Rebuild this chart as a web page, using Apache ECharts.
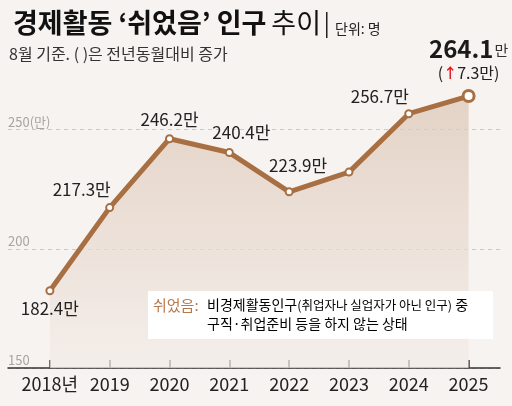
<!DOCTYPE html>
<html>
<head>
<meta charset="utf-8">
<script src="https://cdn.jsdelivr.net/npm/echarts@6/dist/echarts.min.js"></script>
<style>
  html, body { margin: 0; padding: 0; background: #f6f3f0; }
  #main { width: 512px; height: 406px; }
</style>
</head>
<body>
<div id="main"></div>
<script>
// 데이터
const years = [2018, 2019, 2020, 2021, 2022, 2023, 2024, 2025];
const values = [182.4, 217.3, 246.2, 240.4, 223.9, 232.2, 256.7, 264.1];
const yTicks = [150, 200, 250];
const lastChange = 7.3;

const krFont = "'Noto Sans CJK KR', sans-serif";
const brown = '#a86f42';

// 라벨 위치 (점 기준 오프셋), null 이면 라벨 없음
const labelOffsets = [[0, 18], [-28, -18], [0, -19], [12, -20], [9, -26], null, [-29, -17]];

let myChart = echarts.init(document.getElementById('main'));

let seriesData = years.map((y, i) => {
    let item = { value: [y, values[i]] };
    if (i === years.length - 1) {
        // 마지막 값은 큰 라벨
        item.symbolSize = 11;
        item.itemStyle = { borderWidth: 3 };
        item.label = {
            show: true,
            position: 'inside',
            offset: [0, -37],
            formatter: '{b|' + values[i].toFixed(1) + '}{u|만}\n{p|(}{a|↑}{p|' + lastChange + '만)}',
            rich: {
                b: { fontFamily: krFont, fontSize: 24, fontWeight: 'bold', color: '#1a1a1a', lineHeight: 27 },
                u: { fontFamily: krFont, fontSize: 15, color: '#333', lineHeight: 27, padding: [3, 0, 0, 1] },
                p: { fontFamily: krFont, fontSize: 16, color: '#222', lineHeight: 21 },
                a: { fontFamily: krFont, fontSize: 14, fontWeight: 'bold', color: '#e0141e', lineHeight: 21 }
            }
        };
    } else if (labelOffsets[i]) {
        item.label = { show: true, offset: labelOffsets[i] };
    } else {
        item.label = { show: false };
    }
    return item;
});

let option = {
    backgroundColor: '#f6f3f0',
    animation: false,
    title: {
        left: 8,
        top: 4,
        text: '{b|경제활동 ‘쉬었음’ 인구} {r|추이}',
        textStyle: {
            rich: {
                b: { fontFamily: krFont, fontSize: 27, fontWeight: 'bold', color: '#111' },
                r: { fontFamily: krFont, fontSize: 27, fontWeight: 'normal', color: '#111' }
            }
        }
    },
    grid: { left: 8, right: 12, top: 82, bottom: 38 },
    xAxis: {
        type: 'value',
        min: 2017.3,
        max: 2025.525,
        splitLine: { show: false },
        axisLine: { show: true, lineStyle: { color: '#333', width: 1.5 } },
        axisTick: {
            show: true,
            inside: true,
            length: 8,
            customValues: years,
            lineStyle: { color: '#333', width: 1.5 }
        },
        axisLabel: {
            customValues: years,
            margin: 7,
            fontFamily: krFont,
            fontSize: 18,
            color: '#222',
            formatter: (v) => v === years[0] ? v + '년' : String(v)
        }
    },
    yAxis: {
        type: 'value',
        min: 150,
        max: 270,
        axisLine: { show: false },
        axisTick: { show: false, customValues: yTicks },
        axisLabel: {
            customValues: yTicks,
            inside: true,
            margin: 0,
            verticalAlign: 'bottom',
            padding: [0, 0, 1, 0],
            fontFamily: krFont,
            fontSize: 13,
            color: '#aaa4a0',
            formatter: (v) => v === 250 ? v + '(만)' : String(v)
        },
        splitLine: { show: true, lineStyle: { color: '#cfc9c5', type: [4, 4], width: 1 } }
    },
    series: [
        {
            type: 'line',
            data: seriesData,
            symbol: 'circle',
            symbolSize: 7,
            lineStyle: { color: brown, width: 5 },
            itemStyle: { color: '#fff', borderColor: brown, borderWidth: 2 },
            label: {
                position: 'inside',
                align: 'center',
                verticalAlign: 'middle',
                fontFamily: krFont,
                fontSize: 17,
                color: '#222',
                formatter: (p) => p.value[1].toFixed(1) + '만'
            },
            areaStyle: {
                origin: 'start',
                color: new echarts.graphic.LinearGradient(0, 0, 0, 1, [
                    { offset: 0, color: '#dcc5b4' },
                    { offset: 1, color: '#f3ece8' }
                ])
            },
            z: 3
        }
    ],
    graphic: [
        // 제목 옆 구분선과 단위
        { type: 'rect', left: 326, top: 12, shape: { width: 1.5, height: 26 }, style: { fill: '#222' } },
        { type: 'text', left: 335, top: 22, style: { text: '단위: 명', font: '14px ' + krFont, fill: '#222' } },
        // 부제
        { type: 'text', left: 9, top: 46, style: { text: '8월 기준. ( )은 전년동월대비 증가', font: '16px ' + krFont, fill: '#333' } },
        // 설명 박스
        { type: 'rect', left: 148, top: 291, z: 100, shape: { width: 345, height: 48 }, style: { fill: '#ffffff' } },
        { type: 'text', left: 153, top: 298, z: 101, style: { text: '쉬었음:', font: '15px ' + krFont, fill: '#b9784a' } },
        {
            type: 'text', left: 207, top: 298, z: 101,
            style: {
                text: '{t|비경제활동인구}{s|(취업자나 실업자가 아닌 인구)}{t| 중}\n{t|구직·취업준비 등을 하지 않는 상태}',
                rich: {
                    t: { fontFamily: krFont, fontSize: 14, color: '#222', lineHeight: 19 },
                    s: { fontFamily: krFont, fontSize: 12.5, color: '#222', lineHeight: 19 }
                }
            }
        }
    ]
};

myChart.setOption(option);
</script>
</body>
</html>
